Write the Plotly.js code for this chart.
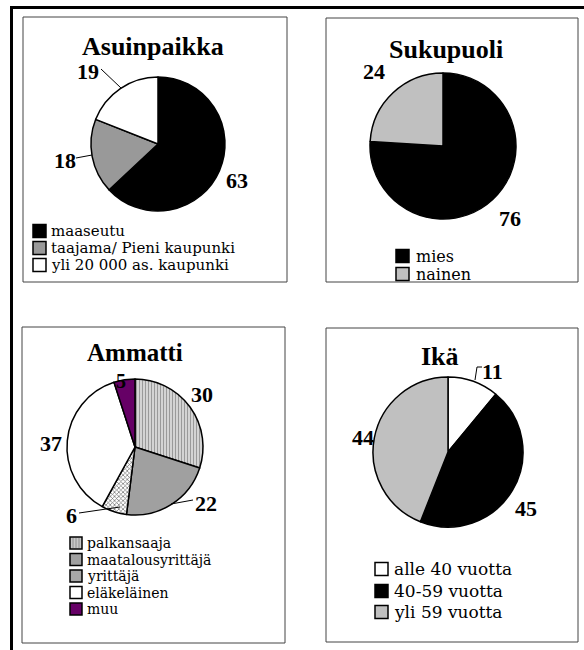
<!DOCTYPE html>
<html>
<head>
<meta charset="utf-8">
<script src="https://cdn.plot.ly/plotly-3.0.1.min.js"></script>
<style>html,body{margin:0;padding:0;background:#fff;}#chart{width:584px;height:650px;}</style>
</head>
<body>
<div id="chart"></div>
<script>
// ---- data ----
const panelTitles = ['Asuinpaikka', 'Sukupuoli', 'Ammatti', 'Ikä'];

const asuinLabels = ['maaseutu', 'taajama/ Pieni kaupunki', 'yli 20 000 as. kaupunki'];
const asuinValues = [63, 18, 19];

const sukuLabels = ['mies', 'nainen'];
const sukuValues = [76, 24];

const ammattiLabels = ['palkansaaja', 'maatalousyrittäjä', 'yrittäjä', 'eläkeläinen', 'muu'];
const ammattiValues = [30, 22, 6, 37, 5];

const ikaLabels = ['alle 40 vuotta', '40-59 vuotta', 'yli 59 vuotta'];
const ikaValues = [11, 45, 44];

// ---- styles ----
const asuinColors = ['#000000', '#999999', '#ffffff'];
const sukuColors = ['#000000', '#c0c0c0'];
const ammattiColors = ['#d4d4d4', '#a0a0a0', '#ffffff', '#ffffff', '#660066'];
const ammattiSwatch = ['#c8c8c8', '#a0a0a0', '#a8a8a8', '#ffffff', '#660066'];
const ikaColors = ['#ffffff', '#000000', '#c0c0c0'];

const W = 584, H = 650;
const px = x => x / W;
const py = y => 1 - y / H;
const dom = (cx, cy, r) => ({x: [px(cx - r), px(cx + r)], y: [py(cy + r), py(cy - r)]});

const SERIF = 'Liberation Serif, Times New Roman, serif';
const LEGSERIF = 'DejaVu Serif, serif';
const line = {color: '#000', width: 1.5};

function pie(values, labels, colors, d, extra) {
  const t = {
    type: 'pie', values: values, labels: labels, sort: false,
    direction: 'clockwise', rotation: 0, textinfo: 'none', hoverinfo: 'label+value',
    marker: {colors: colors, line: line}, domain: d, showlegend: false
  };
  if (extra) Object.assign(t.marker, extra);
  return t;
}

const data = [
  pie(asuinValues, asuinLabels, asuinColors, dom(158, 144, 67)),
  pie(sukuValues, sukuLabels, sukuColors, dom(443, 146, 73)),
  pie(ammattiValues, ammattiLabels, ammattiColors, dom(135, 447, 68), {
    pattern: {
      shape: ['|', '', 'x', '', ''],
      fgcolor: ['#9a9a9a', '#000', '#6a6a6a', '#000', '#000'],
      bgcolor: ammattiColors,
      size: [3, 8, 3, 8, 8],
      solidity: [0.35, 0.3, 0.4, 0.3, 0.3]
    }
  }),
  pie(ikaValues, ikaLabels, ikaColors, dom(448, 452, 75))
];

const annotations = [];
const shapes = [];

// outer frame
shapes.push({type: 'line', xref: 'paper', yref: 'paper', x0: px(10), x1: px(584), y0: py(7.5), y1: py(7.5), line: {color: '#000', width: 3}});
shapes.push({type: 'line', xref: 'paper', yref: 'paper', x0: px(11.5), x1: px(11.5), y0: py(6), y1: py(650), line: {color: '#000', width: 3}});

// panel boxes
const boxes = [[23, 17, 287, 282], [326, 18, 578, 282], [22, 327, 285, 643], [326, 328, 578, 642]];
boxes.forEach(b => shapes.push({type: 'rect', xref: 'paper', yref: 'paper', x0: px(b[0]), x1: px(b[2]), y0: py(b[3]), y1: py(b[1]), line: {color: '#444', width: 1}}));

// titles
const titlePos = [[153, 47], [446, 49], [135, 352], [440, 356]];
const titleSize = [26, 26, 25, 26];
panelTitles.forEach((t, i) => annotations.push({
  text: t, xref: 'paper', yref: 'paper', x: px(titlePos[i][0]), y: py(titlePos[i][1]),
  xanchor: 'center', yanchor: 'middle', showarrow: false, borderpad: 0,
  font: {family: SERIF, size: titleSize[i], color: '#000', weight: 'bold'}
}));

// value labels
function vlabel(v, x, y, s) {
  annotations.push({text: '<b>' + v + '</b>', xref: 'paper', yref: 'paper', x: px(x), y: py(y),
    xanchor: 'center', yanchor: 'middle', showarrow: false, borderpad: 0,
    font: {family: SERIF, size: s || 22, color: '#000'}});
}
vlabel(asuinValues[0], 237, 180);
vlabel(asuinValues[1], 65, 161);
vlabel(asuinValues[2], 88, 72);
vlabel(sukuValues[0], 510, 218);
vlabel(sukuValues[1], 374, 71);
vlabel(ammattiValues[0], 202, 395);
vlabel(ammattiValues[1], 206, 503);
vlabel(ammattiValues[2], 71, 515);
vlabel(ammattiValues[3], 51, 443);
vlabel(ammattiValues[4], 121, 381, 20);
vlabel(ikaValues[0], 492, 371);
vlabel(ikaValues[1], 526, 508);
vlabel(ikaValues[2], 363, 437);

// leader lines
const thin = {color: '#000', width: 1};
function seg(x0, y0, x1, y1) {
  shapes.push({type: 'line', xref: 'paper', yref: 'paper', x0: px(x0), y0: py(y0), x1: px(x1), y1: py(y1), line: thin});
}
seg(101, 69, 121, 88);
seg(76, 158, 92, 155);
seg(79, 513, 120, 507);
seg(171, 504, 193, 500);
seg(475, 380, 477, 367);
seg(477, 367, 482, 367);

// manual legends
function legend(labels, colors, sx, textX, rows, size, fontSize) {
  labels.forEach((l, i) => {
    const cy = rows[i];
    shapes.push({type: 'rect', xref: 'paper', yref: 'paper', x0: px(sx), x1: px(sx + size),
      y0: py(cy + size / 2), y1: py(cy - size / 2), fillcolor: colors[i], line: {color: '#000', width: 1.5}});
    annotations.push({text: l, xref: 'paper', yref: 'paper', x: px(textX), y: py(cy),
      xanchor: 'left', yanchor: 'middle', showarrow: false, borderpad: 0,
      font: {family: LEGSERIF, size: fontSize, color: '#000'}});
  });
}
legend(asuinLabels, asuinColors, 33, 50, [231, 248, 265], 13, 15);
legend(sukuLabels, sukuColors, 396, 415, [256, 274], 13, 16);
legend(ammattiLabels, ammattiSwatch, 70, 86, [543, 559.5, 576, 592.5, 609], 12, 14);
legend(ikaLabels, ikaColors, 375, 393, [569, 591, 612], 13, 17);

// hatch lines for palkansaaja swatch
[73, 76, 79].forEach(x => shapes.push({type: 'line', xref: 'paper', yref: 'paper', x0: px(x), x1: px(x), y0: py(548), y1: py(538), line: {color: '#909090', width: 1}}));

const layout = {
  width: W, height: H, margin: {l: 0, r: 0, t: 0, b: 0},
  paper_bgcolor: '#fff', plot_bgcolor: '#fff', showlegend: false,
  annotations: annotations, shapes: shapes
};

Plotly.newPlot('chart', data, layout, {staticPlot: true, displayModeBar: false});
</script>
</body>
</html>
